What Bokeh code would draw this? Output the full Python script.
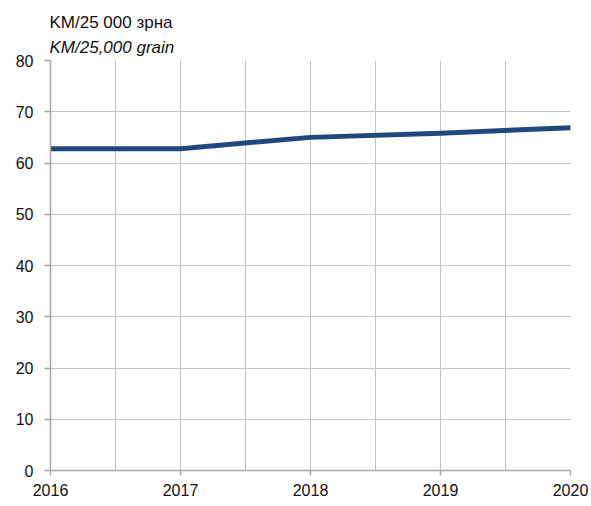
from bokeh.plotting import figure
from bokeh.models import FixedTicker, Title, Range1d
from bokeh.embed import file_html
from bokeh.resources import INLINE

years = [2016, 2017, 2018, 2019, 2020]
values = [62.8, 62.8, 65.0, 65.8, 66.9]
x_ticks = [2016, 2017, 2018, 2019, 2020]
x_grid = [2016, 2016.5, 2017, 2017.5, 2018, 2018.5, 2019, 2019.5, 2020]
y_ticks = [0, 10, 20, 30, 40, 50, 60, 70, 80]
title_mk = "KM/25 000 зрна"
title_en = "KM/25,000 grain"

FONT = "Liberation Sans"
GRID = "#c4c4c4"
AXIS = "#a6a6a6"

p = figure(width=591, height=506, output_backend="svg", toolbar_location=None,
           x_range=Range1d(2016, 2020), y_range=Range1d(0, 80), title=title_mk,
           min_border_left=50, min_border_right=21, min_border_top=60, min_border_bottom=36)
p.outline_line_color = None
p.background_fill_color = "white"
p.border_fill_color = "white"

p.title.text_font = FONT
p.title.text_font_size = "17px"
p.title.text_font_style = "normal"
p.title.text_color = "#111111"
p.title.align = "left"
p.title.offset = -1
p.title.standoff = 1

p.add_layout(Title(text=title_en, text_font=FONT, text_font_size="17px",
                   text_font_style="italic", text_color="#111111",
                   align="left", offset=-1, standoff=7), "above")

p.line(years, values, line_color="#1f497d", line_width=5, line_join="round", line_cap="round")

p.xaxis.ticker = FixedTicker(ticks=x_ticks)
p.yaxis.ticker = FixedTicker(ticks=y_ticks)
p.xgrid.ticker = FixedTicker(ticks=x_grid)
for g in (p.xgrid, p.ygrid):
    g.grid_line_color = GRID
    g.grid_line_width = 1
for ax in (p.xaxis, p.yaxis):
    ax.axis_line_color = AXIS
    ax.axis_line_width = 1.5
    ax.major_tick_line_color = AXIS
    ax.major_tick_line_width = 1.5
    ax.major_tick_in = 0
    ax.minor_tick_line_color = None
    ax.major_label_text_font = FONT
    ax.major_label_text_font_size = "16px"
    ax.major_label_text_color = "#111111"
p.xaxis.major_tick_out = 5
p.yaxis.major_tick_out = 6
p.xaxis.major_label_standoff = 8
p.yaxis.major_label_standoff = 11

open("out.html", "w").write(file_html(p, INLINE))
